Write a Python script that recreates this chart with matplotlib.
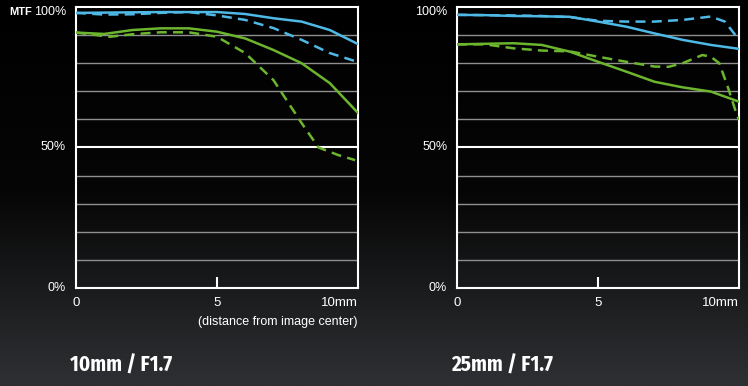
import numpy as np
import matplotlib.pyplot as plt
from matplotlib.colors import LinearSegmentedColormap

# distance from image center (mm)
x_pts = [0, 1, 2, 3, 4, 5, 6, 7, 8, 9, 10]

# 10mm / F1.7
w_blue_solid = [97.9, 98.0, 98.1, 98.2, 98.2, 98.2, 97.5, 96.0, 94.8, 91.8, 86.8]
w_blue_dash = [97.9, 97.3, 97.4, 97.9, 98.2, 97.0, 95.4, 92.5, 88.3, 83.6, 80.4]
w_green_solid = [90.9, 90.4, 91.8, 92.4, 92.4, 91.2, 88.8, 84.7, 80.0, 72.9, 62.3]
w_green_dash_x = [0, 1.2, 2, 3, 4, 5, 6, 7, 8, 8.6, 9.3, 9.9]
w_green_dash = [90.9, 89.4, 90.3, 91.0, 91.0, 89.4, 83.6, 74.0, 58.7, 50.0, 47.3, 45.5]

# 25mm / F1.7
t_blue_solid = [97.2, 97.1, 96.8, 96.7, 96.5, 94.8, 93.0, 90.6, 88.3, 86.5, 85.1]
t_blue_dash_x = [0, 1, 2, 3, 4, 5, 6, 7, 8, 9, 9.5, 10]
t_blue_dash = [97.2, 97.1, 97.0, 96.8, 96.4, 95.1, 94.8, 94.8, 95.4, 96.6, 94.8, 88.3]
t_green_solid = [86.7, 86.9, 87.1, 86.5, 84.1, 80.5, 77.0, 73.4, 71.4, 69.9, 66.3]
t_green_dash_x = [0, 1, 2, 3, 4, 5, 6, 7, 7.5, 8, 8.7, 9, 9.3, 9.6, 9.9, 10]
t_green_dash = [86.7, 86.7, 85.3, 84.5, 84.2, 82.3, 80.5, 78.8, 78.7, 80.0, 82.9, 82.3, 80.0, 71.6, 62.3, 59.8]

titles = ["10mm / F1.7", "25mm / F1.7"]
x_ticks = [0, 5, 10]
x_labels = ["0", "5", "10mm"]
y_ticks = [0, 50, 100]
y_labels = ["0%", "50%", "100%"]
BLUE = "#4fb9e6"
GREEN = "#6cb52e"

plt.rcParams["font.family"] = ["Liberation Sans", "DejaVu Sans"]
title_fonts = ["Fira Sans Condensed", "Asap Condensed", "Roboto Condensed", "Liberation Sans"]

fig = plt.figure(figsize=(7.48, 3.86), dpi=100)

# background gradient
bg = fig.add_axes([0, 0, 1, 1], zorder=-10)
grad = np.linspace(0, 1, 256).reshape(-1, 1)
cmap = LinearSegmentedColormap.from_list("bg", ["#000000", "#060606", "#2e3033"])
bg.imshow(grad, aspect="auto", cmap=cmap, extent=[0, 1, 0, 1], origin="upper")
bg.axis("off")

panels = [
    (0.1016, [(x_pts, w_blue_solid, BLUE, "-"), (x_pts, w_blue_dash, BLUE, "--"),
              (x_pts, w_green_solid, GREEN, "-"), (w_green_dash_x, w_green_dash, GREEN, "--")]),
    (0.611, [(x_pts, t_blue_solid, BLUE, "-"), (t_blue_dash_x, t_blue_dash, BLUE, "--"),
             (x_pts, t_green_solid, GREEN, "-"), (t_green_dash_x, t_green_dash, GREEN, "--")]),
]

for i, (left, series) in enumerate(panels):
    ax = fig.add_axes([left, 0.2539, 0.377, 0.728])
    ax.set_facecolor("none")
    ax.set_xlim(0, 10)
    ax.set_ylim(0, 100)
    for v in range(10, 100, 10):
        if v == 50:
            ax.axhline(v, color="white", lw=1.5, zorder=1)
        else:
            ax.axhline(v, color="#8f8f8f", lw=1.0, zorder=1)
    for xs, ys, c, ls in series:
        if ls == "--":
            ax.plot(xs, ys, color=c, lw=1.8, dashes=(4, 2.5), zorder=3)
        else:
            ax.plot(xs, ys, color=c, lw=1.8, zorder=3)
    for s in ax.spines.values():
        s.set_color("white")
        s.set_linewidth(1.5)

    # only a tick mark at 5; labels drawn as text
    ax.set_xticks([5])
    ax.set_xticklabels([])
    ax.tick_params(axis="x", direction="in", length=8, width=1.5, color="white")
    ax.set_yticks([])
    xt = ax.get_xaxis_transform()
    for xv, lab in zip(x_ticks, x_labels):
        ax.text(xv, -0.055, lab, transform=xt, color="white", fontsize=9.5,
                ha="right" if xv == 10 else "center", va="center")
    yt = ax.get_yaxis_transform()
    for yv, lab in zip(y_ticks, y_labels):
        ypos = yv - 1.8 if yv == 100 else yv
        ax.text(-0.035, ypos, lab, transform=yt, color="white", fontsize=9,
                ha="right", va="center")

    if i == 0:
        ax.text(-0.238, 98.2, "MTF", transform=yt, color="white", fontsize=8,
                fontweight="bold", ha="left", va="center")
        ax.text(1.0, -0.12, "(distance from image center)", transform=ax.transAxes,
                color="white", fontsize=9, ha="right", va="center")
    fig.text(left - 0.008, 0.037, titles[i], color="white", fontsize=15, fontweight="bold",
             family=title_fonts, ha="left", va="baseline")

fig.savefig("out.png", dpi=100)
